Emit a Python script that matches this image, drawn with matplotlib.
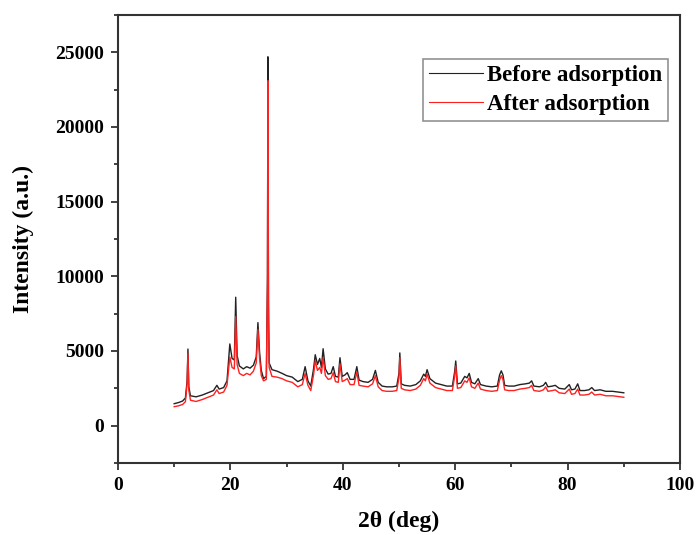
# XRD patterns before / after adsorption
import numpy as np
import matplotlib.pyplot as plt
from matplotlib.ticker import MultipleLocator

# 2theta positions (deg)
two_theta = [10.0, 10.8, 11.5, 12.0, 12.3, 12.45, 12.6, 12.9, 13.9, 15.0,
             16.0, 17.0, 17.6, 18.0, 18.8, 19.4, 19.9, 20.3, 20.7, 20.95,
             21.2, 21.6, 22.3, 22.9, 23.5, 24.1, 24.6, 24.9, 25.2, 25.5,
             25.9, 26.4, 26.6, 26.68, 26.78, 26.9, 27.4, 28.3, 29.2, 30.0,
             31.0, 32.0, 32.8, 33.3, 33.8, 34.3, 34.8, 35.1, 35.5, 35.9,
             36.2, 36.5, 36.9, 37.4, 37.9, 38.3, 38.7, 39.2, 39.5, 39.9,
             40.4, 40.8, 41.3, 42.0, 42.5, 42.9, 43.6, 44.5, 45.3, 45.8,
             46.3, 47.0, 47.8, 48.8, 49.6, 50.0, 50.15, 50.4, 51.0, 52.0,
             53.0, 53.8, 54.4, 54.7, 55.0, 55.5, 56.5, 57.5, 58.5, 59.5,
             59.9, 60.1, 60.4, 61.0, 61.7, 62.1, 62.5, 62.9, 63.5, 64.1,
             64.5, 65.5, 66.5, 67.5, 67.9, 68.2, 68.5, 68.8, 69.5, 70.5,
             71.5, 72.5, 73.2, 73.6, 74.0, 75.0, 75.7, 76.1, 76.5, 77.3,
             77.8, 78.5, 79.5, 80.3, 80.7, 81.3, 81.8, 82.2, 83.0, 83.8,
             84.3, 84.8, 85.8, 86.8, 88.0, 89.0, 90.0]

before = [1470, 1550, 1650, 1850, 3000, 5130, 2600, 2000, 1930, 2050,
          2200, 2350, 2700, 2450, 2550, 3000, 5470, 4500, 4400, 8600,
          4700, 4000, 3800, 3950, 3850, 4050, 4600, 6900, 4900, 3700,
          3150, 3300, 10000, 24700, 8300, 4200, 3750, 3650, 3500, 3350,
          3250, 2950, 3100, 3950, 3000, 2650, 3800, 4750, 4100, 4500,
          3900, 5150, 3800, 3450, 3500, 3950, 3300, 3250, 4550, 3300,
          3400, 3550, 3100, 3100, 3950, 3050, 2950, 2900, 3100, 3700,
          2900, 2650, 2600, 2600, 2650, 3500, 4870, 2800, 2700, 2650,
          2750, 3000, 3450, 3300, 3750, 3150, 2850, 2750, 2650, 2650,
          3600, 4330, 2800, 2850, 3300, 3200, 3500, 2900, 2800, 3150,
          2750, 2650, 2600, 2650, 3400, 3670, 3400, 2700, 2650, 2650,
          2750, 2800, 2850, 3000, 2650, 2600, 2700, 2900, 2600, 2650,
          2700, 2500, 2450, 2750, 2400, 2450, 2800, 2350, 2350, 2400,
          2550, 2350, 2400, 2300, 2300, 2250, 2200]

after = [1270, 1330, 1420, 1600, 2800, 4850, 2400, 1700, 1620, 1750,
         1900, 2050, 2400, 2150, 2250, 2700, 4600, 3900, 3800, 7300,
         4100, 3500, 3350, 3500, 3400, 3650, 4200, 6450, 4500, 3350,
         3000, 3100, 9500, 23100, 7000, 3900, 3300, 3250, 3150, 3000,
         2900, 2600, 2750, 3500, 2700, 2350, 3400, 4350, 3700, 3900,
         3500, 4550, 3350, 3100, 3150, 3550, 2950, 2900, 4150, 2950,
         3050, 3150, 2750, 2750, 3600, 2700, 2650, 2600, 2800, 3350,
         2600, 2350, 2300, 2300, 2350, 3200, 4550, 2500, 2400, 2350,
         2450, 2700, 3150, 3000, 3450, 2850, 2550, 2450, 2350, 2350,
         3300, 4000, 2500, 2550, 3000, 2900, 3200, 2600, 2500, 2850,
         2450, 2350, 2300, 2350, 3050, 3350, 3100, 2400, 2350, 2350,
         2450, 2500, 2550, 2700, 2350, 2300, 2400, 2600, 2300, 2350,
         2400, 2200, 2150, 2450, 2100, 2150, 2450, 2050, 2050, 2100,
         2250, 2050, 2100, 2000, 2000, 1950, 1900]

plt.rcParams['font.family'] = ['Liberation Serif', 'DejaVu Serif']
plt.rcParams['font.weight'] = 'bold'

fig = plt.figure(figsize=(6.96, 5.35), dpi=100)
ax = fig.add_axes([0.1695, 0.1346, 0.8075, 0.8374])

ax.plot(two_theta, before, color='#222222', lw=1.0, label='Before adsorption')
ax.plot(two_theta, after, color='#ff2020', lw=1.0, label='After adsorption')

ax.set_xlim(0, 100)
ax.set_ylim(-2500, 27500)
ax.set_xticks(np.arange(0, 101, 20))
ax.set_yticks(np.arange(0, 25001, 5000))
ax.xaxis.set_minor_locator(MultipleLocator(10))
ax.yaxis.set_minor_locator(MultipleLocator(2500))
ax.tick_params(which='both', direction='out', top=False, right=False,
               width=1.3, labelsize=14, colors='#333333', labelcolor='black')
ax.tick_params(which='major', length=5, pad=5)
ax.tick_params(which='minor', length=3)
for s in ax.spines.values():
    s.set_linewidth(1.5)
    s.set_color('#333333')

ax.set_xlabel('2θ (deg)', fontsize=17, fontweight='bold', labelpad=12)
ax.set_ylabel('Intensity (a.u.)', fontsize=17, fontweight='bold', labelpad=15)

leg = ax.legend(loc='upper right', bbox_to_anchor=(0.979, 0.902), fontsize=16.5,
                frameon=True, fancybox=False, edgecolor='#777777',
                handlelength=2.35, borderpad=0.25, labelspacing=0.38,
                handletextpad=0.2, borderaxespad=0.0)
leg.get_frame().set_linewidth(1.2)
for line in leg.get_lines():
    line.set_linewidth(0.8)

fig.savefig('out.png', dpi=100)
